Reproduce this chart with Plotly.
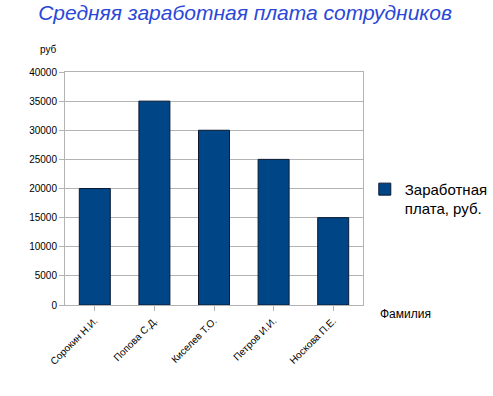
import plotly.graph_objects as go

names = ["Сорокин Н.И.", "Попова С.Д.", "Киселев Т.О.", "Петров И.И.", "Носкова П.Е."]
salary = [20000, 35000, 30000, 25000, 15000]
y_ticks = [0, 5000, 10000, 15000, 20000, 25000, 30000, 35000, 40000]

fig = go.Figure()
fig.add_trace(go.Bar(
    x=names, y=salary, name="Заработная<br>плата, руб.",
    marker=dict(color="#004586", line=dict(color="#0a1a33", width=1)),
    width=0.52,
))

fig.update_layout(
    width=493, height=396,
    margin=dict(l=65, r=130, t=72, b=91, autoexpand=False),
    paper_bgcolor="white", plot_bgcolor="white",
    font=dict(family="Liberation Sans, Arial, sans-serif", size=10, color="#000000"),
    title=dict(text="Средняя заработная плата сотрудников", x=0.497, xanchor="center",
               xref="container", y=0.967, yanchor="middle",
               font=dict(size=21, color="#2a48d8", style="italic",
                         family="Liberation Sans, Arial, sans-serif")),
    showlegend=True,
    legend=dict(x=1.006, y=0.567, xanchor="left", yanchor="top", valign="top",
                font=dict(size=15, color="#000000"), bgcolor="rgba(0,0,0,0)",
                itemwidth=30),
)
fig.update_yaxes(range=[0, 40000], tickvals=y_ticks, ticktext=[str(v) for v in y_ticks],
                 showgrid=True, gridcolor="#b3b3b3", gridwidth=1,
                 showline=True, linecolor="#b3b3b3", mirror=True,
                 ticks="outside", ticklen=5, tickcolor="#b3b3b3",
                 tickfont=dict(size=10), zeroline=False, automargin=False)
fig.update_xaxes(tickangle=-45, showline=True, linecolor="#b3b3b3", mirror=True,
                 ticks="outside", ticklen=5, tickcolor="#b3b3b3",
                 tickfont=dict(size=10), automargin=False)
fig.add_annotation(text="руб", xref="paper", yref="paper", x=-0.055, y=1.065,
                   xanchor="center", yanchor="bottom", showarrow=False,
                   font=dict(size=10))
fig.add_annotation(text="Фамилия", xref="paper", yref="paper", x=1.05, y=-0.0,
                   xanchor="left", yanchor="top", showarrow=False,
                   font=dict(size=12))

fig.write_html("out.html", config={"displayModeBar": False},
               post_script="document.body.style.margin='0';")
